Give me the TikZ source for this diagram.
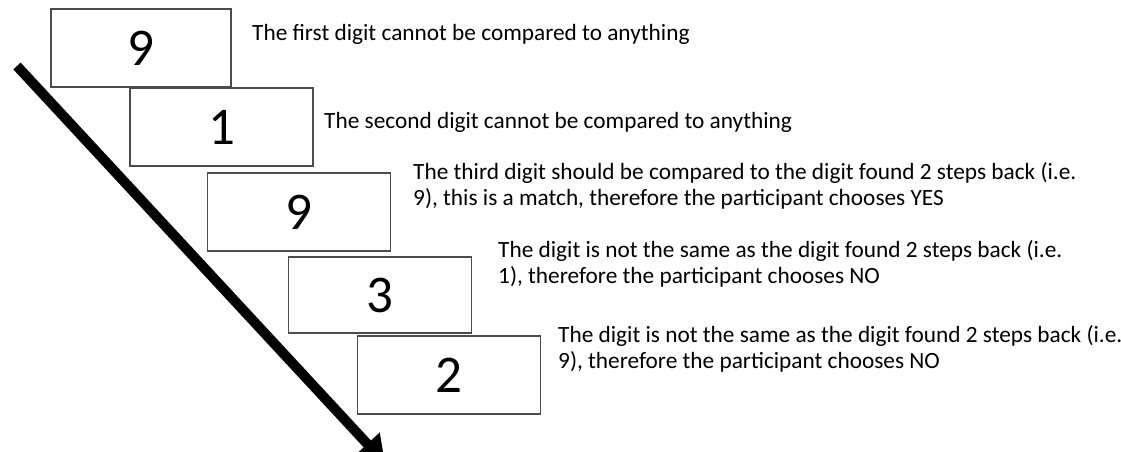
\documentclass[tikz,border=0pt]{standalone}
\usepackage{fontspec}
\setmainfont{Carlito}
\usetikzlibrary{positioning, arrows.meta}

\tikzset{
  digitbox/.style={draw=black!70, line width=1.3pt, fill=white, inner sep=0pt,
    minimum width=183pt, minimum height=78pt, font=\fontsize{53}{53}\selectfont},
  note/.style={anchor=base west, align=left, inner sep=0pt,
    font=\fontsize{23.3}{26}\selectfont, text=black},
}

\begin{document}
\begin{tikzpicture}[x=1pt,y=-1pt]
\useasboundingbox (0,0) rectangle (1121,451);
\coordinate (arrowtail) at (17,66);
\coordinate (arrowtip) at (385,463);
\begin{scope}
\clip (0,0) rectangle (1121,451);
\draw[line width=10pt, -{Triangle[width=32pt,length=26pt]}] (arrowtail) -- (arrowtip);
\end{scope}
\node[digitbox, minimum width=180pt] (first) at (141,48) {9};
\node[digitbox] (second) at (221.5,127) {1};
\node[digitbox] (third) at (299,212) {9};
\node[digitbox, minimum height=76pt] (fourth) at (380,295) {3};
\node[digitbox] (fifth) at (449,375) {2};
\node[note] (firstnote) at (252,40) {The first digit cannot be compared to anything};
\node[note] (secondnote) at (324,128) {The second digit cannot be compared to anything};
\node[note] (thirdnote) at (413,205) {The third digit should be compared to the digit found 2 steps back (i.e.\\9), this is a match, therefore the participant chooses YES};
\node[note] (fourthnote) at (498,283) {The digit is not the same as the digit found 2 steps back (i.e.\\1), therefore the participant chooses NO};
\node[note] (fifthnote) at (558,368) {The digit is not the same as the digit found 2 steps back (i.e.\\9), therefore the participant chooses NO};
\end{tikzpicture}
\end{document}
